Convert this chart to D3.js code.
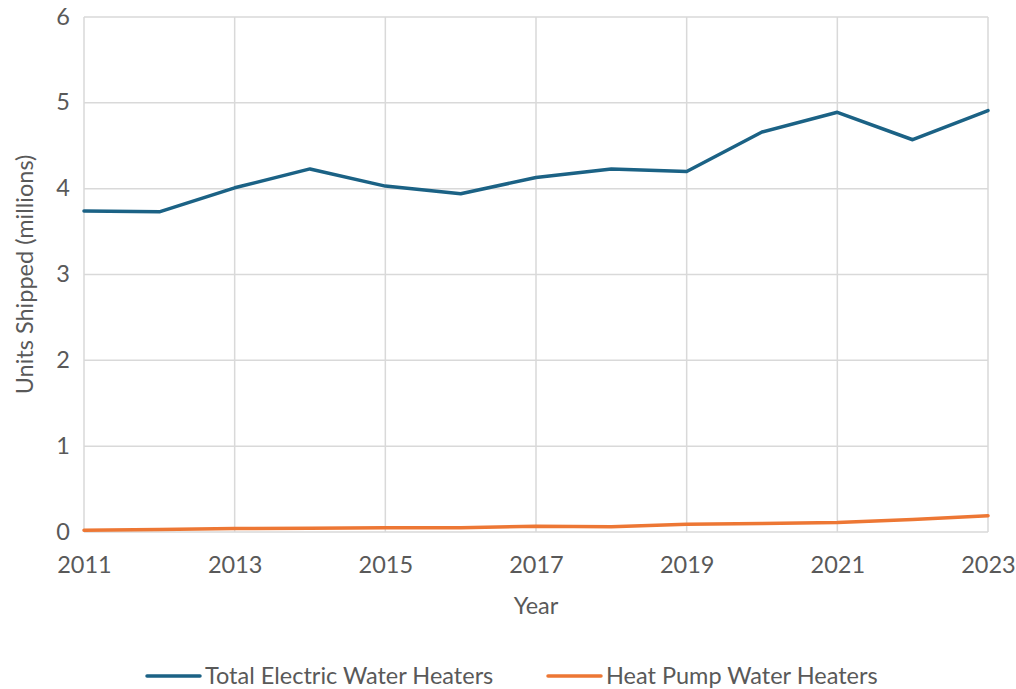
<!DOCTYPE html>
<html>
<head>
<meta charset="utf-8">
<script src="https://cdn.jsdelivr.net/npm/d3@7"></script>
<style>
  body { margin: 0; background: #fff; }
  text { font-family: "Lato", "Open Sans", sans-serif; fill: #595959; }
</style>
</head>
<body>
<svg width="1016" height="689"></svg>
<script>
var years = [2011, 2012, 2013, 2014, 2015, 2016, 2017, 2018, 2019, 2020, 2021, 2022, 2023];
var totalElectric = [3.74, 3.73, 4.01, 4.23, 4.03, 3.94, 4.13, 4.23, 4.20, 4.66, 4.89, 4.57, 4.91];
var heatPump = [0.02, 0.03, 0.04, 0.045, 0.05, 0.05, 0.066, 0.062, 0.09, 0.10, 0.11, 0.145, 0.19];
var xTicks = [2011, 2013, 2015, 2017, 2019, 2021, 2023];
var yTicks = [0, 1, 2, 3, 4, 5, 6];
var seriesNames = ["Total Electric Water Heaters", "Heat Pump Water Heaters"];
var colors = ["#1b6285", "#ed7734"];

var fontSize = "23.5px";

var svg = d3.select("svg"),
  margin = {left: 84, right: 28, top: 17, bottom: 157},
  width = +svg.attr("width") - margin.left - margin.right,
  height = +svg.attr("height") - margin.top - margin.bottom,
  g = svg.append("g").attr("transform", "translate(" + margin.left + "," + margin.top + ")");

var x = d3.scaleLinear().domain([2011, 2023]).range([0, width]);
var y = d3.scaleLinear().domain([0, 6]).range([height, 0]);

// gridlines
g.append("g").selectAll("line.h")
  .data(yTicks).enter().append("line")
  .attr("x1", 0).attr("x2", width)
  .attr("y1", function(d) { return y(d); }).attr("y2", function(d) { return y(d); })
  .attr("stroke", "#d9d9d9").attr("stroke-width", 1.5);

g.append("g").selectAll("line.v")
  .data(xTicks).enter().append("line")
  .attr("y1", 0).attr("y2", height)
  .attr("x1", function(d) { return x(d); }).attr("x2", function(d) { return x(d); })
  .attr("stroke", "#d9d9d9").attr("stroke-width", 1.5);

// axes
var yAxis = g.append("g")
  .call(d3.axisLeft(y).tickValues(yTicks).tickFormat(d3.format("d")).tickSize(0).tickPadding(14));
yAxis.select(".domain").remove();
yAxis.selectAll("text").style("font-size", fontSize).attr("dy", "0.3em");

var xAxis = g.append("g")
  .attr("transform", "translate(0," + height + ")")
  .call(d3.axisBottom(x).tickValues(xTicks).tickFormat(d3.format("d")).tickSize(0).tickPadding(24));
xAxis.select(".domain").remove();
xAxis.selectAll("text").style("font-size", fontSize);

g.append("text")
  .attr("x", width / 2).attr("y", height + 74)
  .attr("dy", "0.35em")
  .attr("text-anchor", "middle").style("font-size", fontSize)
  .text("Year");

g.append("text")
  .attr("transform", "translate(-59," + (height / 2) + ") rotate(-90)")
  .attr("dy", "0.35em")
  .attr("text-anchor", "middle").style("font-size", fontSize)
  .text("Units Shipped (millions)");

// lines
var line = d3.line()
  .x(function(d, i) { return x(years[i]); })
  .y(function(d) { return y(d); });

[totalElectric, heatPump].forEach(function(series, i) {
  g.append("path")
    .datum(series)
    .attr("fill", "none")
    .attr("stroke", colors[i])
    .attr("stroke-width", 3.5)
    .attr("stroke-linejoin", "round")
    .attr("stroke-linecap", "round")
    .attr("d", line);
});

// legend
var legendX = [147, 548];
var legend = svg.append("g").selectAll("g")
  .data(seriesNames).enter().append("g")
  .attr("transform", function(d, i) { return "translate(" + legendX[i] + ",676)"; });

legend.append("line")
  .attr("x1", 0).attr("x2", 53)
  .attr("stroke", function(d, i) { return colors[i]; })
  .attr("stroke-width", 3.5).attr("stroke-linecap", "round");

legend.append("text")
  .attr("x", 58).attr("dy", "0.35em")
  .style("font-size", fontSize)
  .text(function(d) { return d; });
</script>
</body>
</html>
